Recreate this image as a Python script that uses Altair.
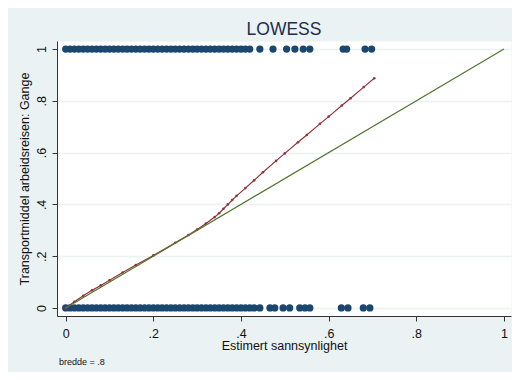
import altair as alt
import pandas as pd

# Observed outcomes (y = 1: walks, y = 0: does not walk) at estimated probability x
x_ones = [0.00, 0.01, 0.02, 0.03, 0.04, 0.05, 0.06, 0.07, 0.08, 0.09, 0.10,
          0.11, 0.12, 0.13, 0.14, 0.15, 0.16, 0.17, 0.18, 0.19, 0.20, 0.21,
          0.22, 0.23, 0.24, 0.25, 0.26, 0.27, 0.28, 0.29, 0.30, 0.31, 0.32,
          0.33, 0.34, 0.35, 0.36, 0.37, 0.38, 0.39, 0.40, 0.41, 0.42,
          0.443, 0.473, 0.504, 0.523, 0.542, 0.557, 0.633, 0.641, 0.683, 0.698]
x_zeros = [0.00, 0.01, 0.02, 0.03, 0.04, 0.05, 0.06, 0.07, 0.08, 0.09, 0.10,
           0.11, 0.12, 0.13, 0.14, 0.15, 0.16, 0.17, 0.18, 0.19, 0.20, 0.21,
           0.22, 0.23, 0.24, 0.25, 0.26, 0.27, 0.28, 0.29, 0.30, 0.31, 0.32,
           0.33, 0.34, 0.35, 0.36, 0.37, 0.38, 0.39, 0.40, 0.41, 0.42, 0.43,
           0.443, 0.466, 0.477, 0.496, 0.511, 0.534, 0.546, 0.557, 0.629,
           0.644, 0.679, 0.694]

# LOWESS smooth (bandwidth .8)
lowess_x = [0.0, 0.02, 0.04, 0.06, 0.08, 0.10, 0.13, 0.16, 0.20, 0.25, 0.28,
            0.30, 0.32, 0.34, 0.35, 0.36, 0.37, 0.38, 0.39, 0.41, 0.43, 0.45,
            0.48, 0.50, 0.53, 0.55, 0.58, 0.60, 0.63, 0.65, 0.68, 0.704]
lowess_y = [0.0, 0.024, 0.047, 0.068, 0.087, 0.107, 0.137, 0.166, 0.203, 0.252,
            0.282, 0.303, 0.326, 0.351, 0.366, 0.383, 0.400, 0.417, 0.433,
            0.463, 0.493, 0.524, 0.568, 0.597, 0.640, 0.668, 0.711, 0.739,
            0.782, 0.810, 0.853, 0.887]

# Reference diagonal
diag_x = [0.0, 1.0]
diag_y = [0.0, 1.0]

tick_vals = [0, 0.2, 0.4, 0.6, 0.8, 1]

scatter_df = pd.DataFrame({
    "x": x_ones + x_zeros,
    "y": [1] * len(x_ones) + [0] * len(x_zeros),
})
lowess_df = pd.DataFrame({"x": lowess_x, "y": lowess_y})
diag_df = pd.DataFrame({"x": diag_x, "y": diag_y})

FONT = "Liberation Sans"
label_expr = ("datum.value == 0 ? '0' : datum.value == 1 ? '1' : "
              "replace(format(datum.value, '.1f'), '0.', '.')")

x_enc = alt.X(
    "x:Q",
    scale=alt.Scale(domain=[-0.0198, 1.016], nice=False, zero=False),
    axis=alt.Axis(
        values=tick_vals, labelExpr=label_expr, title="Estimert sannsynlighet",
        grid=False, tickSize=5, labelPadding=6, titlePadding=0,
        domainColor="#333333", tickColor="#333333", labelColor="#111111",
        titleColor="#111111", labelFont=FONT, titleFont=FONT,
        labelFontSize=12.5, titleFontSize=12.5, titleFontWeight="normal",
    ),
)
y_enc = alt.Y(
    "y:Q",
    scale=alt.Scale(domain=[-0.031, 1.031], nice=False, zero=False),
    axis=alt.Axis(
        values=tick_vals, labelExpr=label_expr,
        title="Transportmiddel arbeidsreisen: Gange",
        grid=True, gridColor="#eaf2f3", gridWidth=1.5,
        tickSize=5, labelAngle=270, labelAlign="center", labelBaseline="bottom",
        labelPadding=4, titlePadding=4,
        domainColor="#333333", tickColor="#333333", labelColor="#111111",
        titleColor="#111111", labelFont=FONT, titleFont=FONT,
        labelFontSize=12.5, titleFontSize=12.5, titleFontWeight="normal",
    ),
)

scatter = alt.Chart(scatter_df).mark_circle(
    size=52, color="#1a476f", opacity=1
).encode(x=x_enc, y=y_enc)

lowess_line = alt.Chart(lowess_df).mark_line(
    color="#90353b", strokeWidth=1.2
).encode(x=x_enc, y=y_enc)

lowess_pts = alt.Chart(lowess_df).mark_circle(
    size=7, color="#90353b", opacity=1
).encode(x=x_enc, y=y_enc)

diag = alt.Chart(diag_df).mark_line(
    color="#55752f", strokeWidth=1.2
).encode(x=x_enc, y=y_enc)

note = alt.Chart(pd.DataFrame({"t": ["bredde = .8"]})).mark_text(
    align="left", baseline="middle", font=FONT, fontSize=9, color="#111111"
).encode(x=alt.value(2), y=alt.value(321), text="t:N")

chart = alt.layer(scatter, lowess_line, lowess_pts, diag, note).properties(
    width=454,
    height=275,
    padding={"left": 49, "right": 1, "top": 33, "bottom": 56},
    autosize=alt.AutoSizeParams(type="none"),
    background="#eaf2f3",
    title=alt.TitleParams(
        "LOWESS", fontSize=17.5, font=FONT, fontWeight="normal",
        color="#1e2d4f", anchor="middle", offset=3,
    ),
).configure_view(fill="white", strokeOpacity=0)

chart.save("out.html", embed_options={"renderer": "svg", "actions": False})
